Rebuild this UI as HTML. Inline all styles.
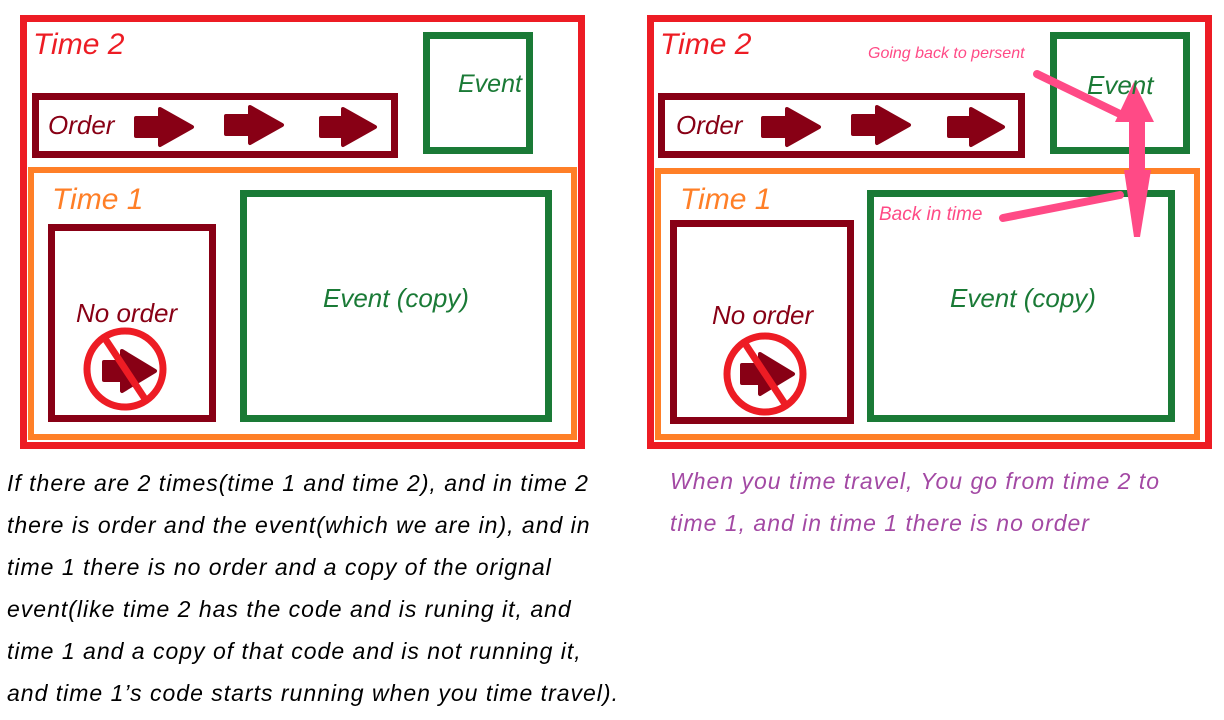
<!DOCTYPE html>
<html><head><style>
body{margin:0;background:#fff;width:1224px;height:720px;overflow:hidden;position:relative;font-family:"Liberation Sans",sans-serif;font-style:italic}
.t{position:absolute;white-space:nowrap}
</style></head><body>
<svg width="1224" height="720" style="position:absolute;left:0;top:0">
<g fill="none">
<rect x="23.5" y="18.5" width="558" height="427" stroke="#ed1c24" stroke-width="7"/>
<rect x="31" y="170" width="543" height="267" stroke="#ff7f27" stroke-width="6"/>
<rect x="35.5" y="96.5" width="359" height="58" stroke="#880015" stroke-width="7"/>
<rect x="426.5" y="35.5" width="103" height="115" stroke="#1a7a36" stroke-width="7"/>
<rect x="51.5" y="227.5" width="161" height="191" stroke="#880015" stroke-width="7"/>
<rect x="243.5" y="193.5" width="305" height="225" stroke="#1a7a36" stroke-width="7"/>
<rect x="650.5" y="18.5" width="558" height="427" stroke="#ed1c24" stroke-width="7"/>
<rect x="658" y="171" width="539" height="266" stroke="#ff7f27" stroke-width="6"/>
<rect x="661.5" y="96.5" width="360" height="58" stroke="#880015" stroke-width="7"/>
<rect x="1053.5" y="35.5" width="133" height="115" stroke="#1a7a36" stroke-width="7"/>
<rect x="673.5" y="223.5" width="177" height="197" stroke="#880015" stroke-width="7"/>
<rect x="870.5" y="193.5" width="301" height="225" stroke="#1a7a36" stroke-width="7"/>
</g>
<g fill="#880015" stroke="#880015" stroke-width="4" stroke-linejoin="round">
<path d="M136 118h24v-9l32 18-32 18v-9h-24z"/>
<path d="M226 116h24v-9l32 18-32 18v-9h-24z"/>
<path d="M321 118h22v-9l32 18-32 18v-9h-22z"/>
<path d="M763 118h24v-9l32 18-32 18v-9h-24z"/>
<path d="M853 116h24v-9l32 18-32 18v-9h-24z"/>
<path d="M949 118h22v-9l32 18-32 18v-9h-22z"/>
<path d="M104 362h18v-11l33 20-33 20v-11h-18z"/>
<path d="M742 365h18v-11l33 20-33 20v-11h-18z"/>
</g>
<g fill="none" stroke="#ed1c24" stroke-width="7">
<circle cx="125" cy="369" r="38"/><line x1="104" y1="337" x2="147" y2="402"/>
<circle cx="765" cy="374" r="38"/><line x1="744" y1="342" x2="787" y2="407"/>
</g>
<g stroke="#ff4a86" fill="#ff4a86" stroke-linecap="round">
<line x1="1037" y1="74" x2="1122" y2="115" stroke-width="8"/>
<line x1="1003" y1="218" x2="1120" y2="195" stroke-width="8"/>
</g>
<path d="M1115 122l19-40 20 40h-9v48h6l-11 67h-6l-10-67h5v-48z" fill="#ff4a86"/>
</svg>
<div class="t" style="left:33px;top:28px;font-size:30px;color:#ed1c24">Time 2</div>
<div class="t" style="left:458px;top:70px;font-size:25px;color:#1a7a36">Event</div>
<div class="t" style="left:48px;top:110px;font-size:26px;color:#880015">Order</div>
<div class="t" style="left:52px;top:183px;font-size:30px;color:#ff7f27">Time 1</div>
<div class="t" style="left:76px;top:298px;font-size:26px;color:#880015">No order</div>
<div class="t" style="left:323px;top:283px;font-size:26px;color:#1a7a36">Event (copy)</div>

<div class="t" style="left:660px;top:28px;font-size:30px;color:#ed1c24">Time 2</div>
<div class="t" style="left:1087px;top:70px;font-size:26px;color:#1a7a36">Event</div>
<div class="t" style="left:676px;top:110px;font-size:26px;color:#880015">Order</div>
<div class="t" style="left:680px;top:183px;font-size:30px;color:#ff7f27">Time 1</div>
<div class="t" style="left:712px;top:300px;font-size:26px;color:#880015">No order</div>
<div class="t" style="left:950px;top:283px;font-size:26px;color:#1a7a36">Event (copy)</div>
<div class="t" style="left:868px;top:45px;font-size:16px;color:#ff4a86">Going back to persent</div>
<div class="t" style="left:879px;top:204px;font-size:19px;color:#ff4a86">Back in time</div>

<div class="t" style="left:7px;top:462px;font-size:23px;letter-spacing:1px;line-height:42px;color:#000">If there are 2 times(time 1 and time 2), and in time 2<br>there is order and the event(which we are in), and in<br>time 1 there is no order and a copy of the orignal<br>event(like time 2 has the code and is runing it, and<br>time 1 and a copy of that code and is not running it,<br>and time 1’s code starts running when you time travel).</div>
<div class="t" style="left:670px;top:460px;font-size:23px;letter-spacing:1px;line-height:42px;color:#a349a4">When you time travel, You go from time 2 to<br>time 1, and in time 1 there is no order</div>
</body></html>
